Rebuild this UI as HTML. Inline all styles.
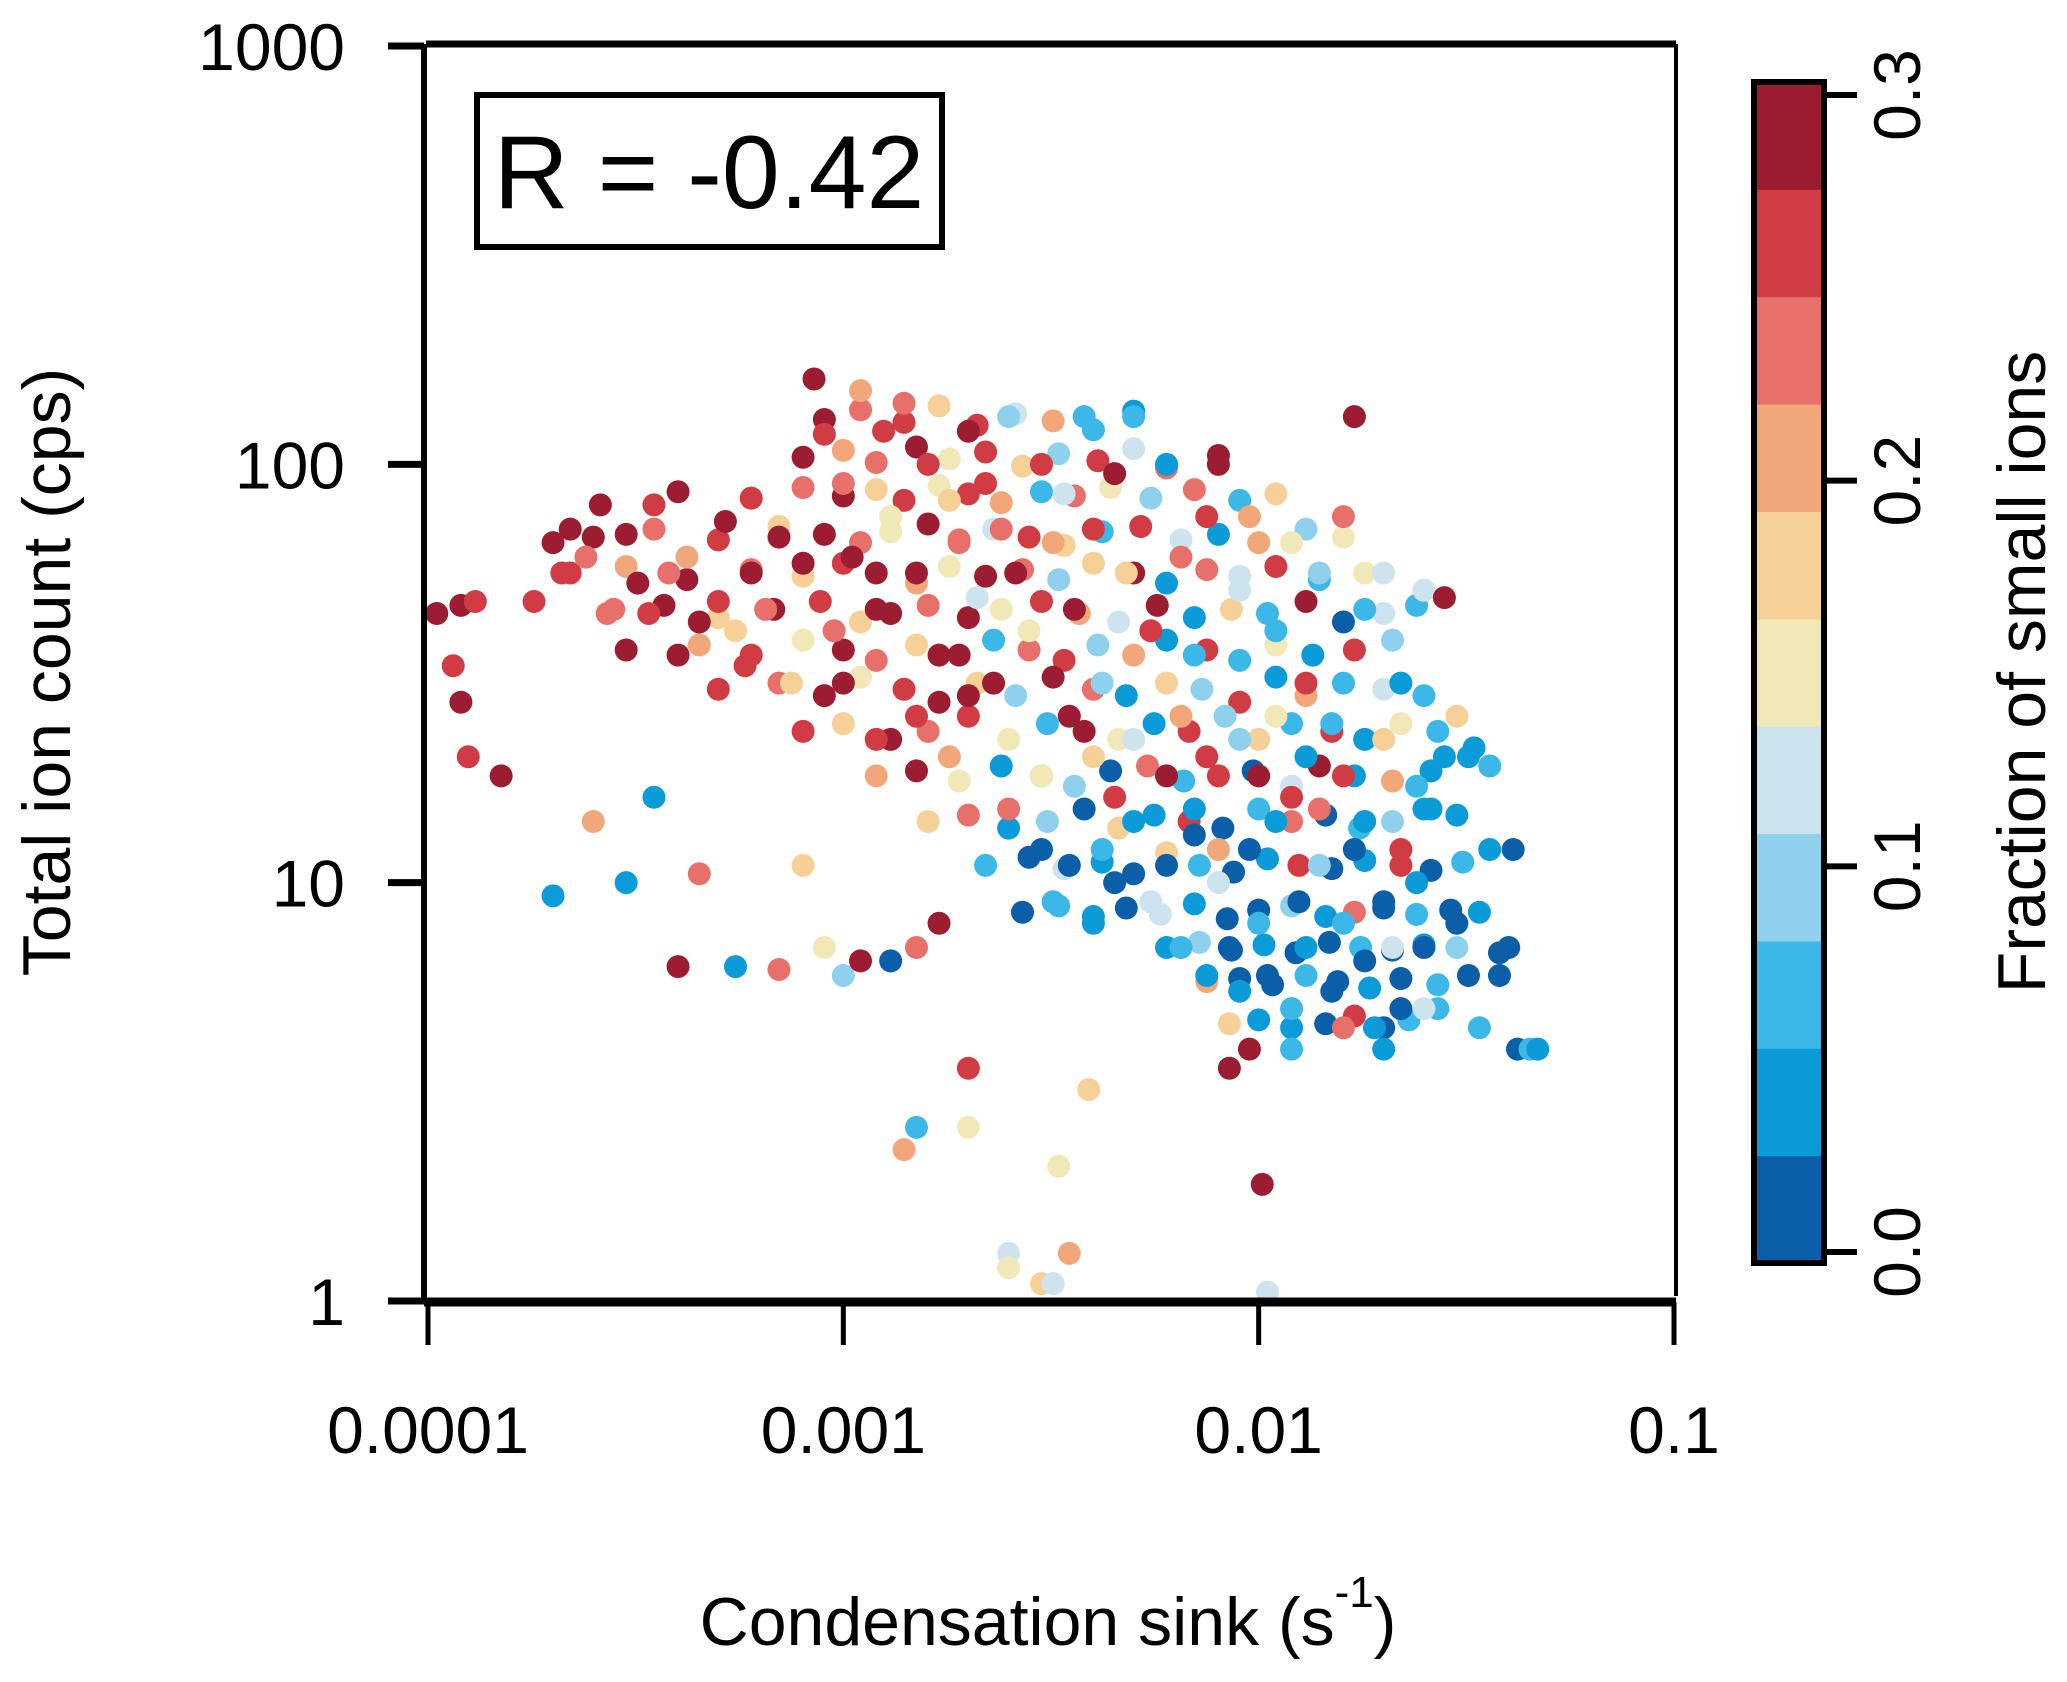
<!DOCTYPE html>
<html><head><meta charset="utf-8">
<style>
html,body{margin:0;padding:0;background:#fff;}
svg{display:block;font-family:"Liberation Sans",Arial,sans-serif;}
</style></head>
<body>
<svg id="chart" width="2067" height="1682" viewBox="0 0 2067 1682">
<g id="points"></g>
<g id="frame">
<line x1="426" y1="44" x2="1676" y2="44" stroke="#000" stroke-width="7"/>
<line x1="1676" y1="44" x2="1676" y2="1296" stroke="#000" stroke-width="4"/>
<line x1="424" y1="44" x2="424" y2="1302" stroke="#000" stroke-width="6"/>
<line x1="424" y1="1302" x2="1676" y2="1302" stroke="#000" stroke-width="9"/>
</g>
<g id="axes"></g>
<g>
<rect x="477" y="95" width="465" height="152" fill="#fff" stroke="#000" stroke-width="6"/>
<text x="709" y="208" font-size="104" text-anchor="middle">R = -0.42</text>
</g>
<text x="1048" y="1645" font-size="68" text-anchor="middle">Condensation sink (s<tspan dy="-38" font-size="44">-1</tspan><tspan dy="38">)</tspan></text>
<text transform="translate(70,672) rotate(-90)" font-size="68" text-anchor="middle">Total ion count (cps)</text>
<g id="cbar"></g>
<text transform="translate(2045,672) rotate(-90)" font-size="68" text-anchor="middle">Fraction of small ions</text>
</svg>
<script>
const xTicks=[0.0001,0.001,0.01,0.1];
const xTickLabels=["0.0001","0.001","0.01","0.1"];
const yTicks=[1,10,100,1000];
const yTickLabels=["1","10","100","1000"];
const cTicks=[0,0.1,0.2,0.3];
const cTickLabels=["0.0","0.1","0.2","0.3"];
const bandColors=["#0b5fa8","#0a9bd8","#3cb8e8","#8fd1ec","#cde4ee","#f1e8b8","#f6d096","#f2a77a","#e8706a","#d13c44","#9c1c32"];
const csVals=[0.000105,0.00012,0.00013,0.000115,0.00012,0.000125,0.00015,0.00018,0.0002,0.00022,0.00021,0.00024,0.00026,0.00028,0.0003,0.00032,0.00035,0.00034,0.00038,0.0004,0.00042,0.00045,0.0005,0.00052,0.00055,0.00058,0.0006,0.00065,0.0007,0.00075,0.0008,0.00085,0.0009,0.00095,0.001,0.00105,0.0011,0.0012,0.00125,0.0013,0.0014,0.0015,0.0016,0.0017,0.0018,0.0019,0.002,0.0021,0.0022,0.0023,0.0024,0.0025,0.0026,0.0028,0.003,0.0032,0.0034,0.0036,0.0038,0.004,0.0042,0.0045,0.0048,0.005,0.0055,0.006,0.0065,0.007,0.0075,0.008,0.009,0.0095,0.011,0.012,0.013,0.014,0.016,0.017,0.018,0.02,0.022,0.025,0.028,0.03,0.032,
0.003,0.0032,0.0035,0.004,0.0042,0.0045,0.005,0.0055,0.006,0.0065,0.007,0.0075,0.008,0.0085,0.009,0.0095,0.01,0.0105,0.011,0.012,0.0125,0.013,0.014,0.015,0.016,0.017,0.018,0.019,0.02,0.021,0.022,0.024,0.025,0.027,0.028,0.03,0.032,0.034,0.036,0.038,0.04,0.042,0.045,0.047,0.041,0.033,0.036,0.026,
0.0025,0.003,0.0035,0.004,0.0045,0.005,0.006,0.0065,0.007,0.0075,0.008,0.009,0.01,0.011,0.012,0.013,0.014,0.015,0.016,0.018,0.02,0.022,0.024,0.0015,0.0018,0.002,0.0012,0.001,
0.0002,0.00025,0.0003,0.00035,0.0004,0.00045,0.00055,0.0007,0.0008,0.0009,0.001,0.0011,0.0013,0.0015,0.0017,0.0015,0.0014,0.002,0.002,0.0025,0.0025,0.003,0.0032,0.0035,0.0033,0.0039,0.0102,0.0105,0.0095,0.0085,0.012,0.016,0.02,0.025];
const ticVals=[44,46,47,33,27,20,18,47,65,70,55,60,80,45,68,52,80,44,55,35,60,42,47,73,40,33,55,45,67,30,58,160,118,40,90,60,150,45,120,75,140,55,100,35,82,65,120,48,90,30,70,130,55,40,100,65,85,45,130,70,30,95,55,130,40,100,60,35,75,100,50,75,40,65,30,55,75,130,45,55,30,50,48,25,20,
12,9,11,8,12,10,14,9,11,7,13,6,10,7,5.5,12,8,6,14,5,9,7,11,5.5,8,12,6.5,4.5,9,7,5,10,7,5,20,8,6,4.5,12,6,7,4,4,4,12,21,19,15,
15,18,25,20,16,22,18,25,15,20,12,22,18,25,16,20,15,24,18,14,22,12,17,25,20,28,22,30,
9.3,14,10,16,6.3,10.5,6.3,6.2,11,7,6,6.5,6.5,7,8,2.6,2.3,3.6,2.6,1.3,1.2,1.1,1.1,1.3,2.1,3.2,1.9,1.05,4,3.6,4,4.5,4,5];
const fracVals=[.28,.28,.27,.26,.28,.26,.29,.27,.28,.29,.26,.24,.29,.22,.28,.29,.27,.26,.22,.28,.21,.29,.26,.28,.19,.27,.29,.22,.28,.17,.29,.29,.27,.22,.24,.28,.2,.29,.25,.15,.22,.28,.27,.29,.18,.24,.29,.12,.26,.29,.22,.1,.28,.16,.27,.2,.12,.29,.06,.25,.09,.29,.18,.07,.27,.04,.22,.08,.26,.28,.12,.2,.06,.14,.27,.1,.22,.29,.06,.12,.05,.13,.29,.17,.05,
.02,.06,.01,.03,.07,0,.05,.11,.02,.08,.01,.05,.12,.01,.03,0,.07,.02,.05,.08,0,.04,.1,.01,.06,.02,0,.05,.01,.12,.02,.04,0,.06,.04,.01,.02,.07,.03,0,.01,.02,.07,.05,0,.05,.08,.03,
.22,.15,.28,.18,.25,.12,.28,.2,.05,.27,.2,.09,.28,.15,.27,.03,.22,.08,.26,.05,.17,.27,.08,.27,.2,.29,.25,.28,
.05,.2,.05,.05,.29,.22,.05,.22,.19,.16,.1,.28,.02,.24,.29,.08,.2,.26,.16,.12,.15,.19,.12,.2,.15,.19,.28,.12,.29,.28,.07,.22,.05,.12];

const csMore=[.0009,.0011,.0014,.0017,.0021,.0026,.0032,.004,.005,
.0008,.001,.0012,.0015,.0018,.0022,.0027,.0033,.0041,.005,.006,.008,
.0004,.0006,.0008,.001,.0012,.0014,.0017,.002,.0024,.003,.0036,.0044,.0055,.007,.009,.011,
.00025,.00035,.0005,.0007,.0009,.0011,.0013,.0016,.0019,.0023,.0028,.0034,.0042,.0052,.0065,.008,.01,.013,.016,
.00022,.0003,.00042,.0006,.0008,.001,.0012,.0015,.0018,.0022,.0027,.0033,.004,.005,.006,.0075,.009,.011,.014,.018,
.00027,.00037,.0005,.00068,.00088,.0011,.0013,.0016,.002,.0024,.003,.0037,.0046,.0057,.007,.0086,.0105,.013,.016,.02,.024,
.0003,.00045,.0006,.0008,.001,.0012,.0015,.0019,.0023,.0028,.0034,.0041,.005,.006,.0075,.009,.011,.0135,.017,.021,
.0005,.0007,.0009,.0011,.0014,.0017,.0021,.0026,.0032,.004,.0048,.006,.0073,.009,.011,.013,.016,.02,.025,
.0008,.001,.0013,.0016,.002,.0025,.0031,.0038,.0046,.0056,.0068,.0083,.01,.012,.015,.018,.022,.027,
.0012,.0015,.0019,.0024,.003,.0036,.0044,.0054,.0066,.008,.0097,.012,.014,.017,.021,.026,
.0016,.002,.0025,.0031,.0038,.0046,.0056,.0068,.0082,.01,.012,.0145,.0175,.021,.025,.03,
.0022,.0028,.0034,.0042,.005,.006,.0072,.0087,.0105,.0125,.015,.018,.022,.026,.031,
.0027,.0033,.004,.0048,.0058,.007,.0084,.01,.012,.0145,.017,.02,.024,.029,.034,
.006,.0072,.0086,.0103,.0123,.0148,.0176,.021,.025,.03,.038,
.0075,.009,.0108,.013,.0155,.0185,.022,.027,
.0085,.01,.012,.0145,.017,.02,.023];
const ticMore=[128,135,126,138,124,132,127,121,134,
104,108,101,110,103,107,99,106,102,109,98,105,
86,83,88,84,87,82,89,85,81,86,84,88,83,87,82,85,
67,70,66,71,68,65,69,72,66,70,67,64,69,71,66,68,65,70,67,
55,57,53,56,54,58,55,52,57,54,56,53,58,55,52,56,54,57,53,55,
44,46,43,45,47,42,44,46,43,45,47,44,42,46,43,45,44,47,42,44,46,
36,37,35,38,36,34,37,35,38,36,34,37,35,38,36,34,37,35,36,38,
29,30,28,31,29,27,30,28,31,29,28,30,29,27,31,28,30,29,28,
23,24,22,23,25,22,24,23,22,24,23,25,22,24,23,22,24,23,
18,18.5,17.5,19,18,17,18.5,19,17.5,18,18.5,17,19,18,17.5,18.5,
14,14.5,13.5,14,15,13.5,14.5,14,13.5,15,14,14.5,13.5,14,15,14.5,
11,11.5,10.8,11.2,10.5,11.8,11,10.6,11.4,11,10.8,11.3,11,10.7,11.2,
8.5,8.8,8.3,8.7,8.4,8.9,8.2,8.6,8.8,8.3,8.5,8.7,8.4,8.6,8.5,
7,7.2,6.9,7.1,6.8,7.2,7,6.9,7.1,7,6.8,
5.8,5.9,5.7,6,5.8,5.6,5.9,5.7,
4.6,4.7,4.5,4.6,4.8,4.5,4.7];
const fracMore=[.28,.22,.27,.19,.25,.12,.2,.08,.05,
.29,.2,.24,.28,.15,.26,.19,.1,.27,.13,.22,.28,
.28,.26,.22,.29,.18,.25,.14,.27,.2,.06,.24,.15,.1,.22,.06,.17,
.29,.24,.27,.19,.28,.22,.16,.29,.24,.12,.27,.18,.08,.25,.13,.05,.2,.1,.14,
.27,.2,.29,.24,.18,.27,.29,.21,.15,.28,.24,.09,.19,.28,.05,.22,.12,.25,.07,.15,
.22,.28,.19,.29,.26,.17,.28,.23,.29,.14,.26,.2,.11,.29,.04,.18,.07,.28,.02,.11,.06,
.29,.21,.27,.16,.28,.24,.19,.28,.07,.22,.27,.1,.2,.03,.25,.08,.15,.04,.26,.09,
.27,.22,.29,.14,.26,.29,.18,.1,.28,.23,.05,.19,.1,.26,.03,.2,.08,.13,.06,
.25,.19,.28,.22,.26,.14,.07,.29,.16,.03,.25,.1,.18,.06,.27,.04,.14,.08,
.2,.28,.16,.05,.24,.1,.02,.22,.06,.27,.01,.12,.29,.05,.2,.04,
.17,.24,.03,.09,.01,.19,.05,.26,0,.08,.22,.02,.06,.1,.03,.05,
.06,.01,.11,.04,.02,.18,.07,0,.05,.26,.01,.03,.27,.02,.06,
0,.08,.03,.01,.12,.05,.02,0,.09,.03,.24,0,.06,.01,.04,
.03,.09,.01,.05,0,.02,.07,0,.03,.1,.01,
.2,.02,0,.06,.01,.04,0,.07,
.19,.05,.04,0,.26,.02,.06];

const NS="http://www.w3.org/2000/svg";
const X0=428,X1=1674,Y0=1301,Y1=46;
function xs(v){return X0+(Math.log10(v)+4)/3*(X1-X0);}
function ys(v){return Y0-Math.log10(v)/3*(Y0-Y1);}
const CB_TOP=82,CB_BOT=1263,CB_X=1754,CB_W=70;
function cy(v){return 1252-v/0.3*(1252-95);}
function colorOf(f){let i=Math.floor(f/0.3*11);if(i<0)i=0;if(i>10)i=10;return bandColors[i];}
function mk(tag,attrs,parent){const e=document.createElementNS(NS,tag);for(const k in attrs)e.setAttribute(k,attrs[k]);parent.appendChild(e);return e;}

const allCs=csMore.concat(csVals), allTic=ticMore.concat(ticVals), allF=fracMore.concat(fracVals);
const pts=document.getElementById('points');
for(let i=0;i<allCs.length;i++){
  const c=mk('circle',{cx:xs(allCs[i]),cy:ys(allTic[i]),r:11.5,fill:colorOf(allF[i])},pts);
  
  
}
const ax=document.getElementById('axes');
xTicks.forEach((t,i)=>{
  const l=mk('line',{x1:xs(t),y1:1302,x2:xs(t),y2:1345,stroke:'#000','stroke-width':5},ax);
  
  
  const tx=mk('text',{x:xs(t),y:1453,'font-size':66,'text-anchor':'middle'},ax);
  tx.textContent=xTickLabels[i];
  
  
});
yTicks.forEach((t,i)=>{
  const l=mk('line',{x1:388,y1:ys(t),x2:424,y2:ys(t),stroke:'#000','stroke-width':7},ax);
  
  
  const tx=mk('text',{x:345,y:ys(t)+24,'font-size':66,'text-anchor':'end'},ax);
  tx.textContent=yTickLabels[i];
  
  
});
const cb=document.getElementById('cbar');
const bh=(CB_BOT-CB_TOP)/bandColors.length;
bandColors.forEach((c,i)=>{
  const r=mk('rect',{x:CB_X,y:CB_BOT-(i+1)*bh,width:CB_W,height:bh+0.5,fill:c},cb);
  
  
});
const cbf=mk('rect',{x:CB_X,y:CB_TOP,width:CB_W,height:CB_BOT-CB_TOP,fill:'none',stroke:'#000','stroke-width':6},cb);


cTicks.forEach((t,i)=>{
  const l=mk('line',{x1:CB_X+CB_W,y1:cy(t),x2:1857,y2:cy(t),stroke:'#000','stroke-width':6},cb);
  
  
  const tx=mk('text',{transform:`translate(1920,${cy(t)}) rotate(-90)`,'font-size':66,'text-anchor':'middle'},cb);
  tx.textContent=cTickLabels[i];
  
  
});
</script>
</body></html>
